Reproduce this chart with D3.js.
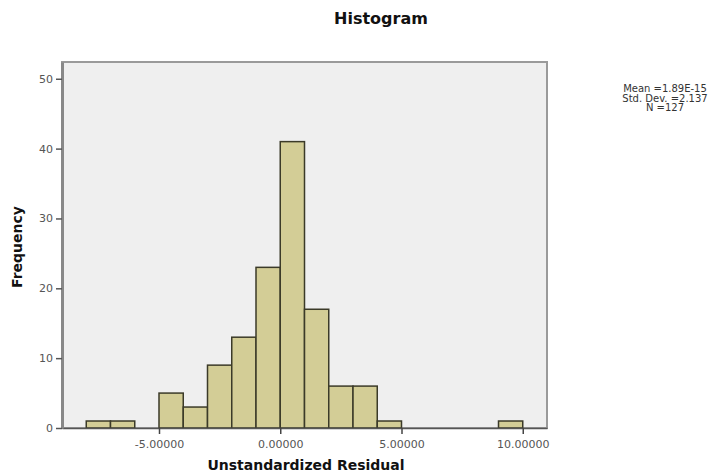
<!DOCTYPE html>
<html>
<head>
<meta charset="utf-8">
<script src="https://cdn.jsdelivr.net/npm/d3@7"></script>
<style>
  html, body { margin: 0; padding: 0; background: #fff; }
  svg { display: block; }
</style>
</head>
<body>
<svg id="chart" width="726" height="475"></svg>
<script>
// ---- data ----
const binLower = [-8, -7, -5, -4, -3, -2, -1, 0, 1, 2, 3, 4, 9];
const binUpper = [-7, -6, -4, -3, -2, -1, 0, 1, 2, 3, 4, 5, 10];
const frequency = [1, 1, 5, 3, 9, 13, 23, 41, 17, 6, 6, 1, 1];
const xTicks = [-5, 0, 5, 10];
const yTicks = [0, 10, 20, 30, 40, 50];
const statsLines = ["Mean =1.89E-15", "Std. Dev. =2.137", "N =127"];
const titleText = "Histogram";
const xLabel = "Unstandardized Residual";
const yLabel = "Frequency";

(function () {
// ---- layout ----
const svg = d3.select("#chart");
const pL = 62, pR = 547, pT = 62, pB = 428;

const x = d3.scaleLinear().domain([-9, 11]).range([pL, pR]);
const y = d3.scaleLinear().domain([0, 52.4]).range([pB, pT]);

// plot background
svg.append("rect")
  .attr("x", pL).attr("y", pT)
  .attr("width", pR - pL).attr("height", pB - pT)
  .attr("fill", "#efefef")
  .attr("stroke", "#9a9a9a").attr("stroke-width", 2);

// bars
const bins = binLower.map((lo, i) => ({ lo, hi: binUpper[i], n: frequency[i] }));
svg.append("g").selectAll("rect").data(bins).join("rect")
  .attr("x", d => x(d.lo))
  .attr("y", d => y(d.n))
  .attr("width", d => x(d.hi) - x(d.lo))
  .attr("height", d => y(0) - y(d.n))
  .attr("fill", "#d3cd96")
  .attr("stroke", "#3b3a28")
  .attr("stroke-width", 1.5);

// axes
const fmt5 = d => d3.format(".5f")(d).replace("\u2212", "-");
const xAxis = d3.axisBottom(x).tickValues(xTicks).tickFormat(fmt5).tickSize(6).tickSizeOuter(0);
const gx = svg.append("g").attr("transform", `translate(0,${pB})`).call(xAxis);
gx.select(".domain").attr("stroke", "#555").attr("stroke-width", 1.5);
gx.selectAll(".tick line").attr("stroke", "#444").attr("stroke-width", 1.5);
gx.selectAll(".tick text")
  .attr("font-family", "DejaVu Sans, sans-serif")
  .attr("font-size", 11)
  .attr("fill", "#555")
  .attr("dy", "1.0em");

const yAxis = d3.axisLeft(y).tickValues(yTicks).tickFormat(d3.format("d")).tickSize(6).tickSizeOuter(0);
const gy = svg.append("g").attr("transform", `translate(${pL},0)`).call(yAxis);
gy.select(".domain").attr("stroke", "#888").attr("stroke-width", 3);
gy.selectAll(".tick line").attr("stroke", "#555").attr("stroke-width", 1.5);
gy.selectAll(".tick text")
  .attr("font-family", "DejaVu Sans, sans-serif")
  .attr("font-size", 11)
  .attr("fill", "#555")
  .attr("x", -9);

// title
svg.append("text")
  .attr("x", 381).attr("y", 24)
  .attr("text-anchor", "middle")
  .attr("font-family", "DejaVu Sans, sans-serif")
  .attr("font-weight", "bold")
  .attr("font-size", 16)
  .attr("fill", "#111")
  .text(titleText);

// x label
svg.append("text")
  .attr("x", 306).attr("y", 470)
  .attr("text-anchor", "middle")
  .attr("font-family", "DejaVu Sans, sans-serif")
  .attr("font-weight", "bold")
  .attr("font-size", 14)
  .attr("fill", "#111")
  .text(xLabel);

// y label
svg.append("text")
  .attr("transform", "translate(22,247) rotate(-90)")
  .attr("text-anchor", "middle")
  .attr("font-family", "DejaVu Sans, sans-serif")
  .attr("font-weight", "bold")
  .attr("font-size", 14)
  .attr("fill", "#111")
  .text(yLabel);

// stats block
svg.append("g").selectAll("text").data(statsLines).join("text")
  .attr("x", 665)
  .attr("y", (d, i) => 92 + i * 9.5)
  .attr("text-anchor", "middle")
  .attr("font-family", "DejaVu Sans, sans-serif")
  .attr("font-size", 10)
  .attr("fill", "#333")
  .text(d => d);
})();
</script>
</body>
</html>
